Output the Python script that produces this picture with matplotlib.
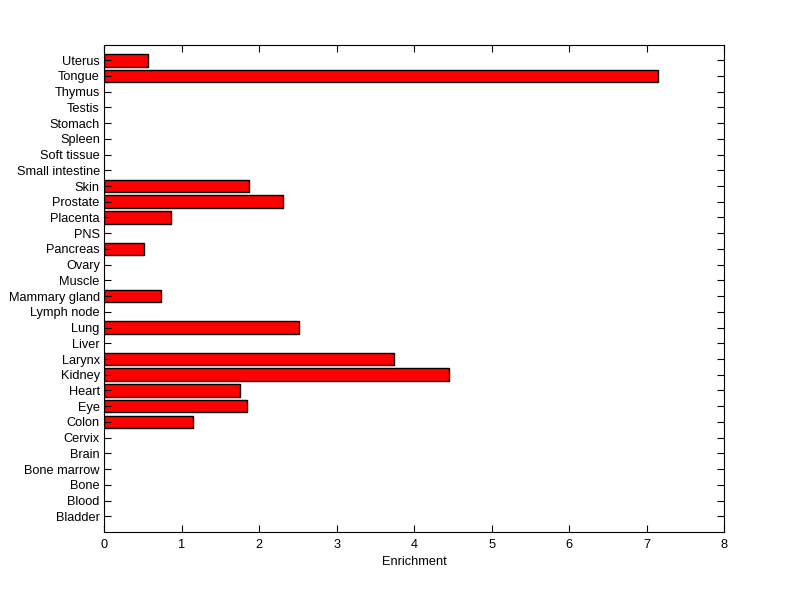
import matplotlib
matplotlib.use("Agg")
import matplotlib.pyplot as plt
import numpy as np

tissues = ['Bladder', 'Blood', 'Bone', 'Bone marrow', 'Brain', 'Cervix', 'Colon',
           'Eye', 'Heart', 'Kidney', 'Larynx', 'Liver', 'Lung', 'Lymph node',
           'Mammary gland', 'Muscle', 'Ovary', 'Pancreas', 'PNS', 'Placenta',
           'Prostate', 'Skin', 'Small intestine', 'Soft tissue', 'Spleen',
           'Stomach', 'Testis', 'Thymus', 'Tongue', 'Uterus']
enrichment = [0, 0, 0, 0, 0, 0, 1.15,
              1.84, 1.75, 4.45, 3.74, 0, 2.51, 0,
              0.74, 0, 0, 0.52, 0, 0.87,
              2.31, 1.87, 0, 0, 0,
              0, 0, 0, 7.14, 0.57]

plt.rcParams['font.family'] = ['Liberation Sans', 'DejaVu Sans']

fig = plt.figure(figsize=(8, 5.99), dpi=100)
ax = fig.add_axes([0.13, 0.1119, 0.7756, 0.8138])

pos = np.arange(1, len(tissues) + 1)
vals = np.array(enrichment)
nz = vals > 0
ax.barh(pos[nz], vals[nz], height=0.8, color='#ff0000', edgecolor='black', linewidth=1)

ax.set_xlim(0, 8)
ax.set_ylim(0, len(tissues) + 1)
ax.set_yticks(pos)
ax.set_yticklabels(tissues, fontsize=9.2)
ax.set_xticks(range(0, 9))
ax.tick_params(axis='x', labelsize=9.2, pad=5)
ax.tick_params(direction='in', top=True, right=True, length=5, width=0.8)
ax.tick_params(axis='y', pad=3)
ax.set_xlabel('Enrichment', fontsize=9.2, labelpad=4)
for s in ax.spines.values():
    s.set_linewidth(0.8)

fig.savefig('out.png', dpi=100)
